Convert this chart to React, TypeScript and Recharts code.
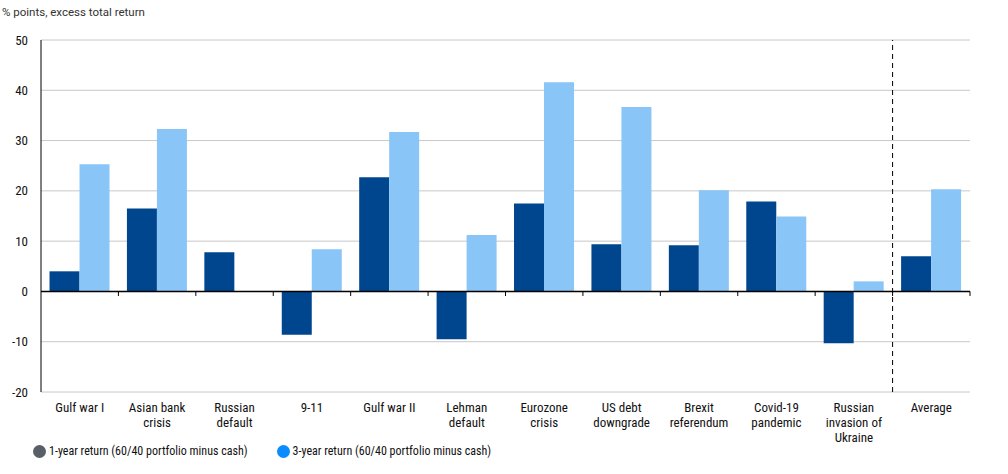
import { Bar, BarChart, CartesianGrid, ReferenceLine, XAxis, YAxis } from "recharts";

const categories = [
  "Gulf war I",
  "Asian bank\ncrisis",
  "Russian\ndefault",
  "9-11",
  "Gulf war II",
  "Lehman\ndefault",
  "Eurozone\ncrisis",
  "US debt\ndowngrade",
  "Brexit\nreferendum",
  "Covid-19\npandemic",
  "Russian\ninvasion of\nUkraine",
  "Average",
];
const oneYear = [4.0, 16.5, 7.8, -8.6, 22.7, -9.5, 17.5, 9.4, 9.2, 17.9, -10.3, 7.0];
const threeYear = [25.3, 32.3, 0, 8.4, 31.7, 11.2, 41.6, 36.7, 20.1, 14.9, 2.0, 20.3];
const yTicks = [-20, -10, 0, 10, 20, 30, 40, 50];

const data = categories.map((name, i) => ({
  name,
  oneYear: oneYear[i],
  threeYear: threeYear[i],
}));

const FONT = "'Liberation Sans Narrow', 'Roboto Condensed', Roboto, sans-serif";
const DARK = "#00468f";
const LIGHT = "#8ac5f7";

const CategoryTick = ({ x, y, payload }: any) => {
  const lines = String(payload.value).split("\n");
  return (
    <text x={x} y={y} textAnchor="middle" fontFamily={FONT} fontSize={13} fill="#111">
      {lines.map((line, i) => (
        <tspan key={i} x={x} dy={i === 0 ? 12 : 15}>
          {line}
        </tspan>
      ))}
    </text>
  );
};

export default function App() {
  return (
    <div style={{ position: "absolute", left: 0, top: 0, width: 1008, height: 474, background: "#fff" }}>
      <div
        style={{
          position: "absolute",
          left: 2,
          top: 5,
          fontFamily: "Roboto, sans-serif",
          fontSize: 11.5,
          color: "#333",
        }}
      >
        % points, excess total return
      </div>
      <BarChart
        width={1008}
        height={474}
        data={data}
        margin={{ top: 40, right: 38, bottom: 34, left: 0 }}
        barCategoryGap="11%"
        barGap={0}
      >
        <CartesianGrid vertical={false} stroke="#c8c8c8" />
        <XAxis
          dataKey="name"
          axisLine={false}
          tickLine={false}
          interval={0}
          height={48}
          tick={<CategoryTick />}
        />
        <YAxis
          domain={[-20, 50]}
          ticks={yTicks}
          width={41}
          tickLine={false}
          axisLine={{ stroke: "#000" }}
          tickMargin={7}
          tick={{ fontFamily: FONT, fontSize: 13, fill: "#111" }}
        />
        <Bar dataKey="oneYear" fill={DARK} isAnimationActive={false} />
        <Bar dataKey="threeYear" fill={LIGHT} isAnimationActive={false} />
        <ReferenceLine y={0} stroke="#000" strokeWidth={1.5} />
        {categories.slice(1).map((c) => (
          <ReferenceLine
            key={c}
            segment={[
              { x: c, y: 0 },
              { x: c, y: -0.9 },
            ]}
            position="start"
            stroke="#000"
          />
        ))}
        <ReferenceLine
          segment={[
            { x: "Average", y: 0 },
            { x: "Average", y: -0.9 },
          ]}
          position="end"
          stroke="#000"
        />
        <ReferenceLine x="Average" position="start" stroke="#000" strokeDasharray="5 4" />
      </BarChart>
      <div
        style={{
          position: "absolute",
          left: 33,
          top: 444,
          display: "flex",
          alignItems: "center",
          fontFamily: FONT,
          fontSize: 12,
          color: "#111",
        }}
      >
        <span style={{ width: 13, height: 13, borderRadius: 7, background: "#595f66", marginRight: 3 }} />
        <span style={{ marginRight: 29 }}>1-year return (60/40 portfolio minus cash)</span>
        <span style={{ width: 13, height: 13, borderRadius: 7, background: "#0a8cff", marginRight: 3 }} />
        <span>3-year return (60/40 portfolio minus cash)</span>
      </div>
    </div>
  );
}
